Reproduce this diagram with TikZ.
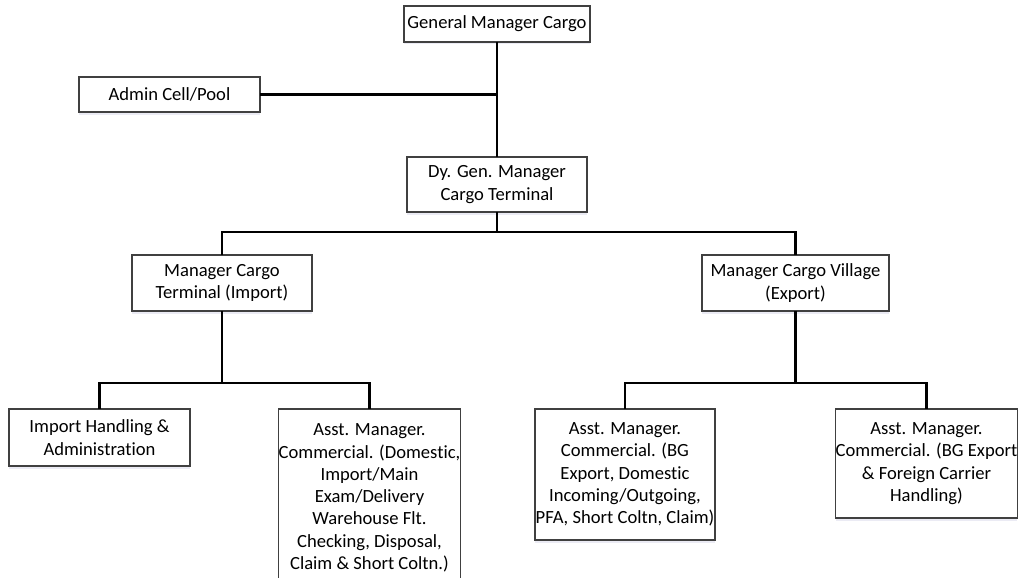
\documentclass[tikz,border=0pt]{standalone}
\usepackage{fontspec}
\setmainfont{Carlito}[RawFeature={-liga;-clig}]
\usetikzlibrary{shadows}
\begin{document}
\begin{tikzpicture}[x=1pt,y=-1pt,
  every node/.style={font=\fontsize{18.6}{22.3}\selectfont},
  unit/.style={draw=black!75, line width=1.2pt, fill=white, align=center,
    inner sep=0pt, outer sep=0pt,
    drop shadow={shadow xshift=0pt, shadow yshift=-2.5pt, fill=blue!30!gray!40, opacity=0.3}},
  link/.style={line width=2.6pt, black, line cap=butt}
]
\clip (0,0) rectangle (1020,578);
\fill[white] (0,0) rectangle (1020,578);

% top level
\node[unit, minimum width=186pt, minimum height=36pt] (gm) at (497,24) {General Manager Cargo};
\node[unit, minimum width=181pt, minimum height=35pt] (admin) at (169.5,94.5) {Admin Cell/Pool};
\node[unit, minimum width=180pt, minimum height=55pt] (dgm) at (497,184.5) {Dy. Gen. Manager\\Cargo Terminal};

% managers
\node[unit, minimum width=180pt, minimum height=56pt] (imp) at (222,283) {Manager Cargo\\Terminal (Import)};
\node[unit, minimum width=187pt, minimum height=56pt] (exp) at (795.5,283) {Manager Cargo Village\\(Export)};

% sections
\node[unit, minimum width=181pt, minimum height=57pt] (ih) at (99.5,437.5) {Import Handling \&\\Administration};
\node[unit, minimum width=181pt, minimum height=178pt] (amA) at (369.5,498) {Asst. Manager.\\Commercial. (Domestic,\\Import/Main\\Exam/Delivery\\Warehouse Flt.\\Checking, Disposal,\\Claim \& Short Coltn.)};
\node[unit, minimum width=180pt, minimum height=131pt] (amB) at (625,474.5) {Asst. Manager.\\Commercial. (BG\\Export, Domestic\\Incoming/Outgoing,\\PFA, Short Coltn, Claim)};
\node[unit, minimum width=181pt, minimum height=109pt] (amC) at (926.5,463.5) {Asst. Manager.\\Commercial. (BG Export\\\& Foreign Carrier\\Handling)};

% connectors
\draw[link] (gm.south) -- (dgm.north);
\draw[link] (admin.east) -- (gm.south |- admin.east);

\coordinate (j1) at (dgm.south |- 0,232);
\draw[link] (dgm.south) -- (j1);
\draw[link] (j1) -| (imp.north);
\draw[link] (j1) -| (exp.north);

\coordinate (j2) at (imp.south |- 0,383);
\draw[link] (imp.south) -- (j2);
\draw[link] (j2) -| (ih.north);
\draw[link] (j2) -| (amA.north);

\coordinate (j3) at (exp.south |- 0,383);
\draw[link] (exp.south) -- (j3);
\draw[link] (j3) -| (amB.north);
\draw[link] (j3) -| (amC.north);
\end{tikzpicture}
\end{document}
